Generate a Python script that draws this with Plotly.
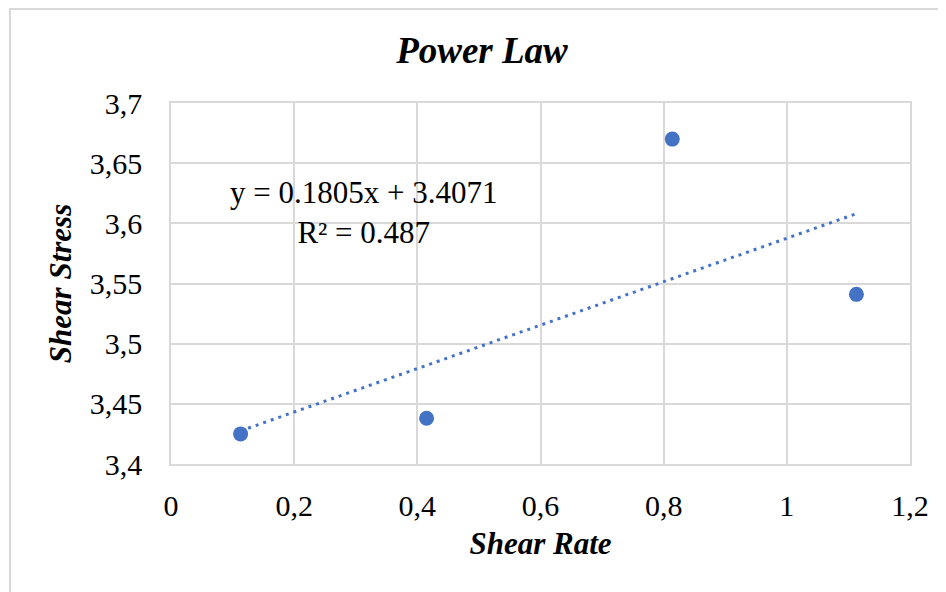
import numpy as np
import plotly.graph_objects as go

# Data
shear_rate = [0.113, 0.415, 0.814, 1.113]
shear_stress = [3.425, 3.438, 3.670, 3.541]
trend_slope = 0.1805
trend_intercept = 3.4071
r_squared = 0.487

x_tickvals = [0, 0.2, 0.4, 0.6, 0.8, 1.0, 1.2]
x_ticktext = ["0", "0,2", "0,4", "0,6", "0,8", "1", "1,2"]
y_tickvals = [3.4, 3.45, 3.5, 3.55, 3.6, 3.65, 3.7]
y_ticktext = ["3,4", "3,45", "3,5", "3,55", "3,6", "3,65", "3,7"]

FONT = "Liberation Serif"
BLUE = "#4472C4"
GRID = "#D9D9D9"

L, T, PW, PH = 163, 95, 739, 361
W, H = 946, 592

trend_x = np.array([min(shear_rate), max(shear_rate)])
trend_y = trend_slope * trend_x + trend_intercept

fig = go.Figure()
fig.add_trace(go.Scatter(
    x=trend_x, y=trend_y, mode="lines",
    line=dict(color=BLUE, width=3, dash="3px,5px"),
    hoverinfo="skip", showlegend=False,
))
fig.add_trace(go.Scatter(
    x=shear_rate, y=shear_stress, mode="markers",
    marker=dict(color=BLUE, size=15),
    showlegend=False,
))

fig.add_annotation(
    x=0.313, y=3.609, xref="x", yref="y",
    text=f"y = {trend_slope}x + {trend_intercept}<br>R² = {r_squared}",
    showarrow=False, align="center",
    font=dict(family=FONT, size=31, color="#000000"),
)

fig.update_layout(
    width=W, height=H,
    paper_bgcolor="white", plot_bgcolor="white",
    margin=dict(l=L, r=W - L - PW, t=T, b=H - T - PH),
    title=dict(
        text="<b><i>Power Law</i></b>",
        x=474 / W, xref="container", xanchor="center",
        y=1 - 42 / H, yref="container", yanchor="middle",
        font=dict(family=FONT, size=37, color="#000000"),
    ),
    xaxis=dict(
        range=[0, 1.2], tickvals=x_tickvals, ticktext=x_ticktext,
        showgrid=True, gridcolor=GRID, gridwidth=1.5,
        showline=True, linecolor=GRID, linewidth=1.5, mirror=True,
        zeroline=False, ticks="", ticklen=0, ticklabelstandoff=14,
        tickfont=dict(family=FONT, size=30, color="#000000"),
        title=dict(text="<b><i>Shear Rate</i></b>", standoff=12,
                   font=dict(family=FONT, size=31, color="#000000")),
    ),
    yaxis=dict(
        range=[3.4, 3.7], tickvals=y_tickvals, ticktext=y_ticktext,
        showgrid=True, gridcolor=GRID, gridwidth=1.5,
        showline=True, linecolor=GRID, linewidth=1.5, mirror=True,
        zeroline=False, ticks="", ticklen=0, ticklabelstandoff=21,
        tickfont=dict(family=FONT, size=30, color="#000000"),
        title=dict(text="<b><i>Shear Stress</i></b>", standoff=9,
                   font=dict(family=FONT, size=31, color="#000000")),
    ),
    shapes=[dict(type="rect", xref="paper", yref="paper",
                 x0=(2 - L) / PW, x1=1 + 80 / PW,
                 y0=-200 / PH, y1=1 + (T - 1) / PH,
                 line=dict(color=GRID, width=2), fillcolor="rgba(0,0,0,0)",
                 layer="below")],
)

fig.write_html("out.html")
